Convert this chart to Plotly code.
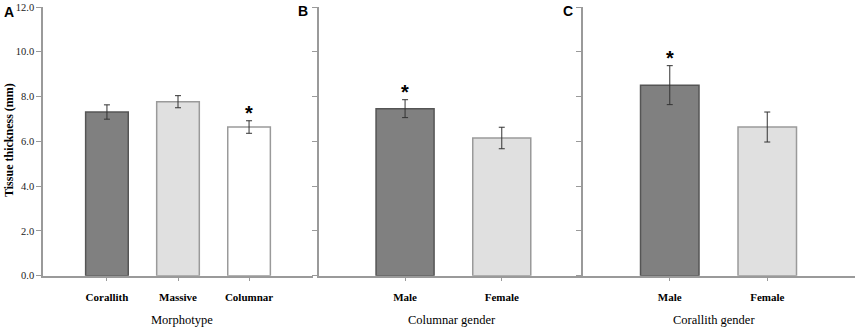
import plotly.graph_objects as go

# ---- data ----
morph_cats = ["Corallith", "Massive", "Columnar"]
morph_vals = [7.31, 7.77, 6.64]
morph_err = [0.32, 0.27, 0.28]
morph_sig = [False, False, True]

colgen_cats = ["Male", "Female"]
colgen_vals = [7.46, 6.15]
colgen_err = [0.40, 0.48]
colgen_sig = [True, False]

corgen_cats = ["Male", "Female"]
corgen_vals = [8.51, 6.64]
corgen_err = [0.87, 0.67]
corgen_sig = [True, False]

y_ticks = [0, 2, 4, 6, 8, 10, 12]
y_ticklabels = ["0.0", "2.0", "4.0", "6.0", "8.0", "10.0", "12.0"]

DARK = "#808080"
LIGHT = "#e0e0e0"
WHITE = "#ffffff"
morph_colors = [DARK, LIGHT, WHITE]
morph_lines = ["#555555", "#9a9a9a", "#9a9a9a"]
gen_colors = [DARK, LIGHT]
gen_lines = ["#555555", "#9a9a9a"]

W, H = 857, 330
SERIF = "Liberation Serif, Times New Roman, serif"
SANS = "Liberation Sans, Arial, sans-serif"
AXC = "#9a9a9a"

fig = go.Figure()

panels = [
    (morph_cats, morph_vals, morph_err, morph_sig, morph_colors, morph_lines, "x", "y"),
    (colgen_cats, colgen_vals, colgen_err, colgen_sig, gen_colors, gen_lines, "x2", "y2"),
    (corgen_cats, corgen_vals, corgen_err, corgen_sig, gen_colors, gen_lines, "x3", "y3"),
]

for cats, vals, errs, sig, cols, lines, xa, ya in panels:
    fig.add_trace(go.Bar(
        x=cats, y=vals, width=0.6,
        marker=dict(color=cols, line=dict(color=lines, width=1.5)),
        error_y=dict(type="data", array=errs, color="#333333", thickness=1, width=3),
        xaxis=xa, yaxis=ya, showlegend=False,
    ))
    for c, v, e, s in zip(cats, vals, errs, sig):
        if s:
            fig.add_annotation(
                x=c, y=v + e, xref=xa, yref=ya, text="<b>*</b>",
                showarrow=False, yanchor="middle", yshift=8,
                font=dict(family=SANS, size=20, color="black"),
            )

ydom = [(H - 275.7) / H, (H - 7) / H]
xdoms = [[43 / W, 313 / W], [319 / W, 583 / W], [583 / W, 855 / W]]
xranges = [[-0.9, 2.9], [-0.89, 1.84], [-0.89, 1.9]]

for i in range(3):
    sfx = "" if i == 0 else str(i + 1)
    fig.update_layout(**{
        "xaxis" + sfx: dict(
            domain=xdoms[i], range=xranges[i], type="category", automargin=False,
            anchor="y" + sfx, showline=True, linecolor=AXC, linewidth=1.5,
            ticks="outside", ticklen=4, tickcolor=AXC, tickwidth=1,
            showgrid=False, zeroline=False, ticklabelstandoff=6,
            tickfont=dict(family=SERIF, size=11, color="black", weight="bold"),
        ),
        "yaxis" + sfx: dict(
            domain=ydom, range=[0, 12], anchor="x" + sfx, automargin=False,
            showline=True, linecolor=AXC, linewidth=1.5,
            ticks="outside", ticklen=5, tickcolor=AXC, tickwidth=1,
            tickvals=y_ticks, ticktext=y_ticklabels,
            showticklabels=(i == 0), showgrid=False, zeroline=False,
            tickfont=dict(family=SERIF, size=10.5, color="#222222"),
        ),
    })

# axis titles
titles = [("Morphotype", 182), ("Columnar gender", 452), ("Corallith gender", 714)]
for t, px in titles:
    fig.add_annotation(x=px / W, y=(H - 320) / H, xref="paper", yref="paper",
                       text=t, showarrow=False, xanchor="center", yanchor="middle",
                       font=dict(family=SERIF, size=12.5, color="black"))

fig.add_annotation(x=9 / W, y=(H - 140) / H, xref="paper", yref="paper",
                   text="<b>Tissue thickness (mm)</b>", textangle=-90, showarrow=False,
                   xanchor="center", yanchor="middle",
                   font=dict(family=SERIF, size=12, color="black"))

# panel letters
for letter, px, py in [("A", 9, 12), ("B", 303, 11), ("C", 568, 11)]:
    fig.add_annotation(x=px / W, y=(H - py) / H, xref="paper", yref="paper",
                       text="<b>" + letter + "</b>", showarrow=False,
                       xanchor="center", yanchor="middle",
                       font=dict(family=SANS, size=14, color="black"))

fig.update_layout(
    width=W, height=H, margin=dict(l=0, r=0, t=0, b=0),
    paper_bgcolor="white", plot_bgcolor="white", bargap=0.4,
)

fig.write_html("out.html", config={"displayModeBar": False},
               post_script="document.body.style.margin='0';document.body.style.overflow='hidden';")
